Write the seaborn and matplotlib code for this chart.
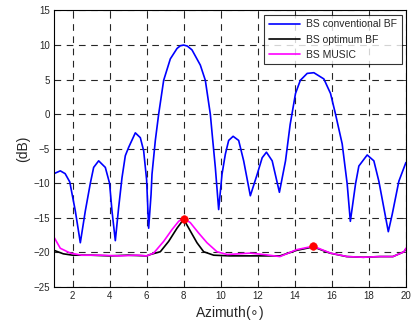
import matplotlib
matplotlib.use("Agg")
import matplotlib.pyplot as plt
import seaborn as sns
import pandas as pd

# ---- data ----
conv_x = [1.0, 1.34, 1.6, 1.85, 2.15, 2.42, 2.69, 2.96, 3.14, 3.41, 3.77, 4.0, 4.13, 4.31,
          4.49, 4.67, 4.85, 5.03, 5.39, 5.66, 5.84, 6.0, 6.11, 6.24, 6.29, 6.47, 6.65, 6.92,
          7.28, 7.64, 7.82, 8.0, 8.2, 8.45, 8.9, 9.17, 9.44, 9.54, 9.71, 9.89, 10.07, 10.25, 10.43,
          10.67, 10.97, 11.24, 11.6, 11.97, 12.24, 12.47, 12.78, 13.17, 13.5, 13.75, 14.04,
          14.3, 14.67, 15.03, 15.57, 15.93, 16.2, 16.56, 16.83, 17.0, 17.28, 17.46, 17.91,
          18.27, 18.54, 19.05, 19.26, 19.62, 20.0]
conv_y = [-8.6, -8.2, -8.6, -9.8, -14.0, -18.6, -14.0, -10.0, -7.7, -6.75, -7.7, -10.0, -14.0,
          -18.3, -13.5, -9.2, -6.0, -4.8, -2.7, -3.4, -5.3, -9.5, -16.5, -11.6, -8.7, -3.8,
          0.0, 4.9, 8.0, 9.5, 9.9, 10.0, 9.85, 9.3, 7.1, 4.9, 0.0, -2.9, -7.7, -13.8, -8.7, -5.8, -3.8,
          -3.2, -3.8, -6.75, -11.8, -8.7, -6.3, -5.5, -6.75, -11.3, -6.75, -1.5, 3.0,
          4.9, 5.9, 6.0, 5.1, 3.0, 0.0, -4.3, -10.1, -15.5, -10.1, -7.5, -5.9,
          -6.75, -9.7, -17.0, -14.5, -9.7, -7.0]

opt_x = [1.0, 1.5, 2.0, 3.0, 4.0, 5.0, 6.0, 6.2, 6.74, 7.19, 7.64, 8.0, 8.36, 8.72, 9.08,
         9.62, 10.5, 11.5, 12.5, 13.2, 14.1, 15.0, 15.9, 16.8, 17.7, 18.6, 19.3, 19.9, 20.0]
opt_y = [-19.7, -20.2, -20.4, -20.4, -20.5, -20.4, -20.5, -20.3, -19.9, -18.4, -16.5, -15.2,
         -16.9, -18.6, -19.9, -20.4, -20.5, -20.5, -20.5, -20.5, -19.7, -19.2, -20.1, -20.6,
         -20.7, -20.6, -20.6, -19.9, -19.5]

music_x = [1.0, 1.34, 1.88, 2.5, 3.5, 4.5, 5.5, 6.0, 6.38, 6.92, 7.37, 7.73, 8.0, 8.36, 8.81,
           9.26, 9.8, 10.35, 11.0, 11.6, 12.3, 13.2, 14.1, 15.0, 15.93, 16.83, 17.7, 18.6,
           19.3, 19.9, 20.0]
music_y = [-17.8, -19.4, -20.1, -20.4, -20.4, -20.5, -20.4, -20.5, -20.1, -18.4, -16.7, -15.5,
           -15.0, -15.7, -17.2, -18.6, -19.9, -20.3, -20.2, -20.1, -20.3, -20.6, -19.6, -19.1,
           -20.1, -20.6, -20.7, -20.6, -20.6, -19.9, -19.4]

peak_x = [8, 15]
peak_y = [-15.1, -19.1]

labels = ["BS conventional BF", "BS optimum BF", "BS MUSIC"]
xticks = list(range(2, 21, 2))
yticks = list(range(-25, 16, 5))

# ---- plotting ----
sns.set_style("white")
plt.rcParams['font.family'] = ['Liberation Sans', 'DejaVu Sans']

fig = plt.figure(figsize=(4.13, 3.23), dpi=100)
ax = fig.add_axes([0.1308, 0.1115, 0.852, 0.856])

df_c = pd.DataFrame({"x": conv_x, "y": conv_y})
df_o = pd.DataFrame({"x": opt_x, "y": opt_y})
df_m = pd.DataFrame({"x": music_x, "y": music_y})

sns.lineplot(data=df_c, x="x", y="y", ax=ax, color="#0000ff", lw=1.2, sort=False, label=labels[0])
sns.lineplot(data=df_o, x="x", y="y", ax=ax, color="black", lw=1.2, sort=False, label=labels[1])
sns.lineplot(data=df_m, x="x", y="y", ax=ax, color="#ff00ff", lw=1.2, sort=False, label=labels[2])
sns.scatterplot(x=peak_x, y=peak_y, ax=ax, color="red", s=30, edgecolor="red", zorder=5)

ax.set_xlim(1, 20)
ax.set_ylim(-25, 15)
ax.set_xticks(xticks)
ax.set_yticks(yticks)
ax.grid(True, color="black", linestyle=(0, (6, 5)), linewidth=0.8, alpha=0.85)
ax.tick_params(direction="in", length=3, labelsize=7, top=True, right=True,
               bottom=True, left=True, width=0.6, pad=3)
for s in ax.spines.values():
    s.set_color("black")
    s.set_linewidth(0.8)

ax.set_xlabel(r"Azimuth($\circ$)", fontsize=10, labelpad=2)
ax.set_ylabel("(dB)", fontsize=10, labelpad=2)

leg = ax.legend(loc="upper right", fontsize=7.5, frameon=True, fancybox=False,
                edgecolor="black", handlelength=3.0, borderaxespad=0.4,
                labelspacing=0.5, borderpad=0.45, handletextpad=0.6)
leg.get_frame().set_linewidth(0.8)

fig.savefig("out.png", dpi=100)
